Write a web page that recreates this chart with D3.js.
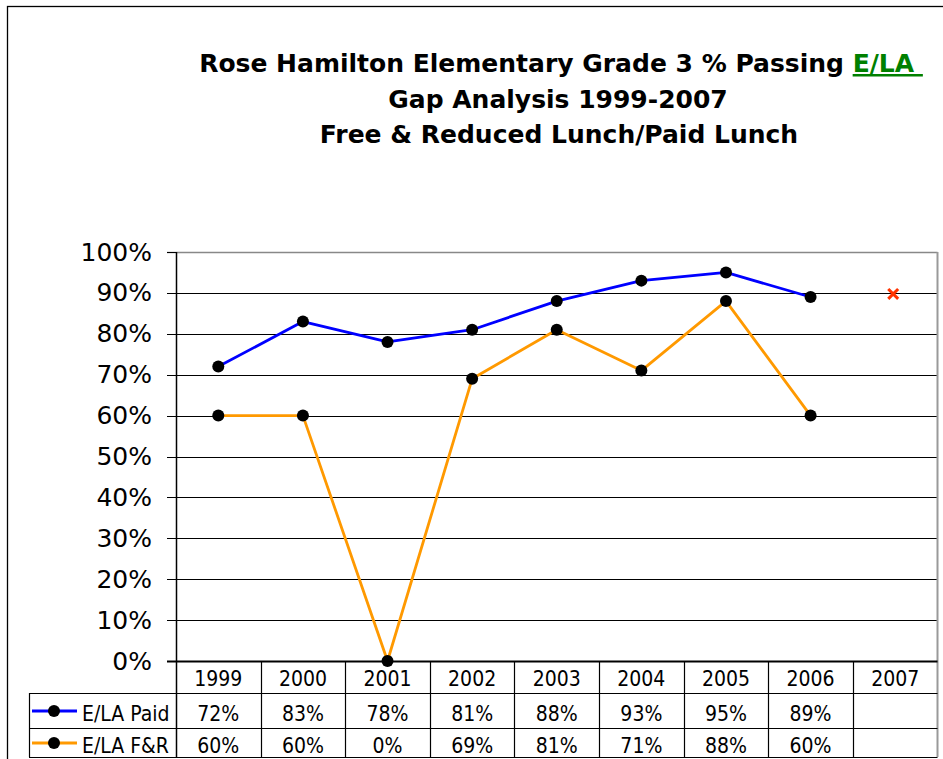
<!DOCTYPE html>
<html><head><meta charset="utf-8">
<script src="https://cdn.jsdelivr.net/npm/d3@7"></script>
<style>
html,body{margin:0;padding:0;background:#fff;}
svg{display:block;}
</style></head>
<body>
<svg id="c" width="943" height="759"></svg>
<script>
const years = ["1999","2000","2001","2002","2003","2004","2005","2006","2007"];
const paid = [72,83,78,81,88,93,95,89,null];
const fr = [60,60,0,69,81,71,88,60,null];
const goal = [null,null,null,null,null,null,null,null,90];
const yTicks = [0,10,20,30,40,50,60,70,80,90,100];
const seriesNames = ["E/LA Paid","E/LA F&R"];
const titleLines = ["Rose Hamilton Elementary Grade 3 % Passing ","Gap Analysis 1999-2007","Free & Reduced Lunch/Paid Lunch"];
const titleHighlight = "E/LA ";

const svg = d3.select("#c");
const L = 176, R = 937.5, T = 252, B = 661;
const tableTop = B, row1 = 693, row2 = 728, tableBot = 757, legendLeft = 29;

const x = d3.scaleBand().domain(years).range([L, R]);
const y = d3.scaleLinear().domain([0,100]).range([B, T]);

// outer frame
svg.append("rect").attr("x",7.5).attr("y",6.5).attr("width",950).attr("height",800)
  .attr("fill","none").attr("stroke","#000").attr("stroke-width",1.3);

// title
const tg = svg.append("g").attr("font-family","'DejaVu Sans', Verdana, sans-serif")
  .attr("font-weight","bold").attr("font-size",25).attr("text-anchor","middle").attr("fill","#000");
const t1 = tg.append("text").attr("x",561).attr("y",72).attr("xml:space","preserve");
t1.append("tspan").text(titleLines[0]);
t1.append("tspan").attr("fill","#008000").attr("text-decoration","underline").text(titleHighlight);
tg.append("text").attr("x",558).attr("y",108).text(titleLines[1]);
tg.append("text").attr("x",559).attr("y",143).text(titleLines[2]);

// gridlines
svg.append("g").selectAll("line").data(yTicks.filter(d=>d>0 && d<100)).join("line")
  .attr("x1",L-9).attr("x2",R).attr("y1",d=>Math.round(y(d))+0.5).attr("y2",d=>Math.round(y(d))+0.5)
  .attr("stroke","#000").attr("stroke-width",1.2);
// top plot border (gray) and tick
svg.append("line").attr("x1",L).attr("x2",R).attr("y1",y(100)+0.5).attr("y2",y(100)+0.5)
  .attr("stroke","#888").attr("stroke-width",1.5);
svg.append("line").attr("x1",L-9).attr("x2",L).attr("y1",y(100)+0.5).attr("y2",y(100)+0.5)
  .attr("stroke","#000").attr("stroke-width",1.2);
// right plot border
svg.append("line").attr("x1",R).attr("x2",R).attr("y1",T).attr("y2",tableBot)
  .attr("stroke","#999").attr("stroke-width",2);

// y axis labels via d3 axis
const yAxis = d3.axisLeft(y).tickValues(yTicks).tickFormat(d=>d+"%").tickSize(0).tickPadding(0);
const ya = svg.append("g").attr("transform",`translate(${152},0)`).call(yAxis);
ya.select(".domain").remove();
ya.selectAll("text").attr("font-family","'DejaVu Sans', Verdana, sans-serif").attr("font-size",25).attr("fill","#000");

// table lines
const tl = svg.append("g").attr("stroke","#000").attr("stroke-width",1.2);
tl.append("line").attr("x1",L-9).attr("x2",R).attr("y1",B+0.5).attr("y2",B+0.5).attr("stroke-width",1.8);
tl.append("line").attr("x1",legendLeft).attr("x2",R).attr("y1",row1+0.5).attr("y2",row1+0.5);
tl.append("line").attr("x1",legendLeft).attr("x2",R).attr("y1",row2+0.5).attr("y2",row2+0.5);
tl.append("line").attr("x1",legendLeft).attr("x2",R).attr("y1",tableBot+0.5).attr("y2",tableBot+0.5);
tl.append("line").attr("x1",legendLeft+0.5).attr("x2",legendLeft+0.5).attr("y1",row1).attr("y2",tableBot);
// axis vertical
tl.append("line").attr("x1",L+0.5).attr("x2",L+0.5).attr("y1",T).attr("y2",tableBot).attr("stroke-width",1.5);
tl.selectAll("line.col").data(years.slice(1)).join("line").attr("class","col")
  .attr("x1",d=>Math.round(x(d))+0.5).attr("x2",d=>Math.round(x(d))+0.5).attr("y1",B).attr("y2",tableBot);

// table text
const tf = "'DejaVu Sans Condensed', 'DejaVu Sans', sans-serif";
const tt = svg.append("g").attr("font-family",tf).attr("font-size",21).attr("text-anchor","middle").attr("fill","#000");
tt.selectAll("text.h").data(years).join("text").attr("class","h")
  .attr("x",d=>x(d)+x.bandwidth()/2).attr("y",686).text(d=>d);
tt.selectAll("text.p").data(paid.map((v,i)=>({v,i})).filter(d=>d.v!==null)).join("text").attr("class","p")
  .attr("x",d=>x(years[d.i])+x.bandwidth()/2).attr("y",721).text(d=>d.v+"%");
tt.selectAll("text.f").data(fr.map((v,i)=>({v,i})).filter(d=>d.v!==null)).join("text").attr("class","f")
  .attr("x",d=>x(years[d.i])+x.bandwidth()/2).attr("y",753).text(d=>d.v+"%");

// legend keys
const colors = ["#0000FF","#FF9900"];
const legY = [711, 743];
seriesNames.forEach((n,i)=>{
  const g = svg.append("g");
  g.append("line").attr("x1",32).attr("x2",77).attr("y1",legY[i]).attr("y2",legY[i]).attr("stroke",colors[i]).attr("stroke-width",3);
  g.append("circle").attr("cx",54).attr("cy",legY[i]).attr("r",6).attr("fill","#000");
  g.append("text").attr("x",82).attr("y",i===0?721:753).attr("font-family",tf).attr("font-size",21).attr("fill","#000").text(n);
});

// lines
const line = d3.line().defined(d=>d.v!==null).x(d=>x(d.yr)+x.bandwidth()/2).y(d=>y(d.v));
[paid, fr].forEach((arr,i)=>{
  const data = arr.map((v,k)=>({v,yr:years[k]}));
  svg.append("path").datum(data).attr("d",line).attr("fill","none").attr("stroke",colors[i]).attr("stroke-width",2.8).attr("stroke-linejoin","round");
});
[paid, fr].forEach((arr,i)=>{
  const data = arr.map((v,k)=>({v,yr:years[k]})).filter(d=>d.v!==null);
  svg.append("g").selectAll("circle").data(data).join("circle")
    .attr("cx",d=>x(d.yr)+x.bandwidth()/2).attr("cy",d=>y(d.v)).attr("r",6).attr("fill","#000");
});
// goal marker (x)
const gd = goal.map((v,k)=>({v,yr:years[k]})).filter(d=>d.v!==null);
svg.append("g").selectAll("path").data(gd).join("path")
  .attr("transform",d=>`translate(${x(d.yr)+x.bandwidth()/2-2},${y(d.v)+1}) rotate(45)`)
  .attr("d","M-7,0H7M0,-7V7").attr("stroke","#FF3300").attr("stroke-width",3);
</script>
</body></html>
